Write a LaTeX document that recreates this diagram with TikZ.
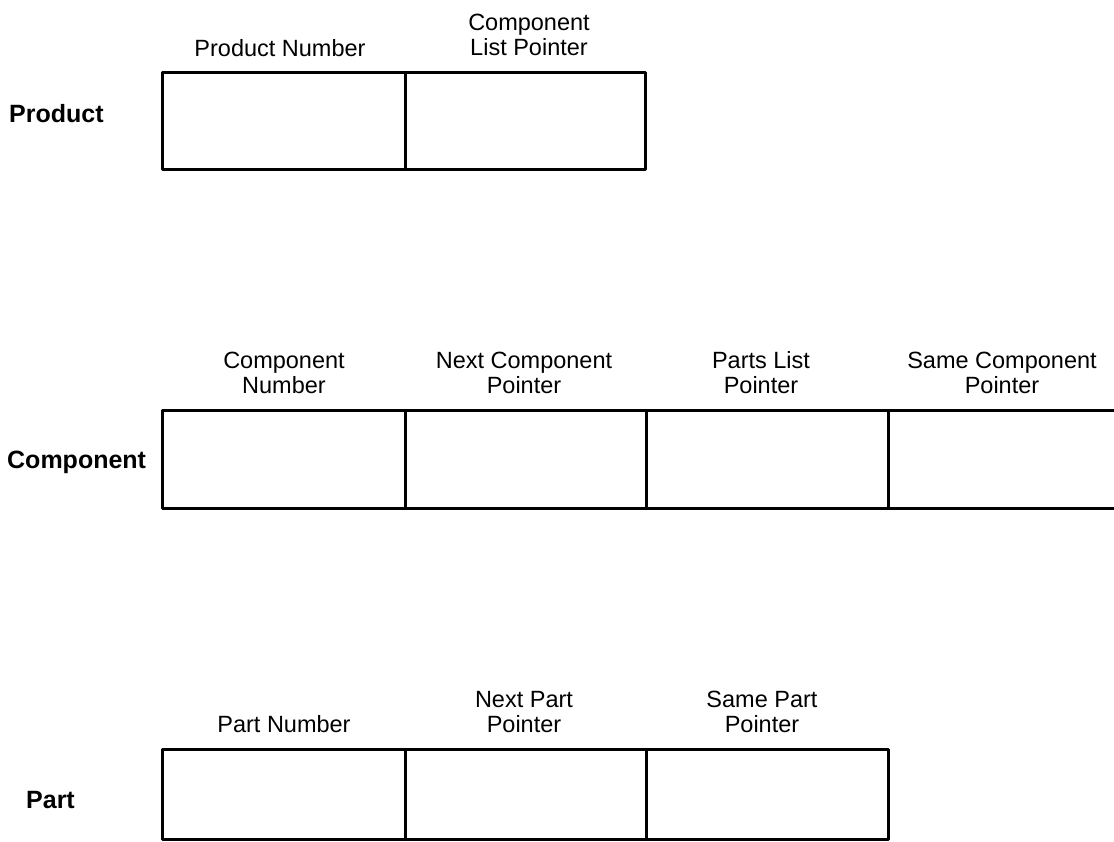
\documentclass[tikz,border=0pt]{standalone}
\usepackage{fontspec}
\setmainfont{Liberation Sans}
\begin{document}
\begin{tikzpicture}[x=1pt,y=-1pt,
  boxline/.style={line width=3pt, line cap=rect, line join=round},
  hdr/.style={font=\fontsize{23.5}{25}\selectfont, align=center, inner sep=0pt, anchor=base},
  lbl/.style={font=\fontsize{25}{27}\selectfont\bfseries, inner sep=0pt, anchor=base west}]
\useasboundingbox (0,0) rectangle (1114,842);
% Product
\draw[boxline] (162,73) rectangle (645,170);
\draw[boxline] (405,73) -- (405,170);
\node[hdr] (pn) at (280,57) {Product Number};
\node[hdr] (clp) at (529,56) {Component\\List Pointer};
\node[lbl] (prod) at (9,123) {Product};
% Component
\draw[boxline] (1114,410) -- (162,410) -- (162,508) -- (1114,508);
\draw[boxline] (405,410) -- (405,508);
\draw[boxline] (646,410) -- (646,508);
\draw[boxline] (888,410) -- (888,508);
\node[hdr] (cn) at (284,393) {Component\\Number};
\node[hdr] (ncp) at (524,393) {Next Component\\Pointer};
\node[hdr] (plp) at (761,393) {Parts List\\Pointer};
\node[hdr] (scp) at (1002,393) {Same Component\\Pointer};
\node[lbl] (comp) at (7,468) {Component};
% Part
\draw[boxline] (162,749) rectangle (888,839);
\draw[boxline] (405,749) -- (405,839);
\draw[boxline] (646,749) -- (646,839);
\node[hdr] (ptn) at (284,732) {Part Number};
\node[hdr] (npp) at (524,732) {Next Part\\Pointer};
\node[hdr] (spp) at (762,732) {Same Part\\Pointer};
\node[lbl] (part) at (26,808) {Part};
\end{tikzpicture}
\end{document}
